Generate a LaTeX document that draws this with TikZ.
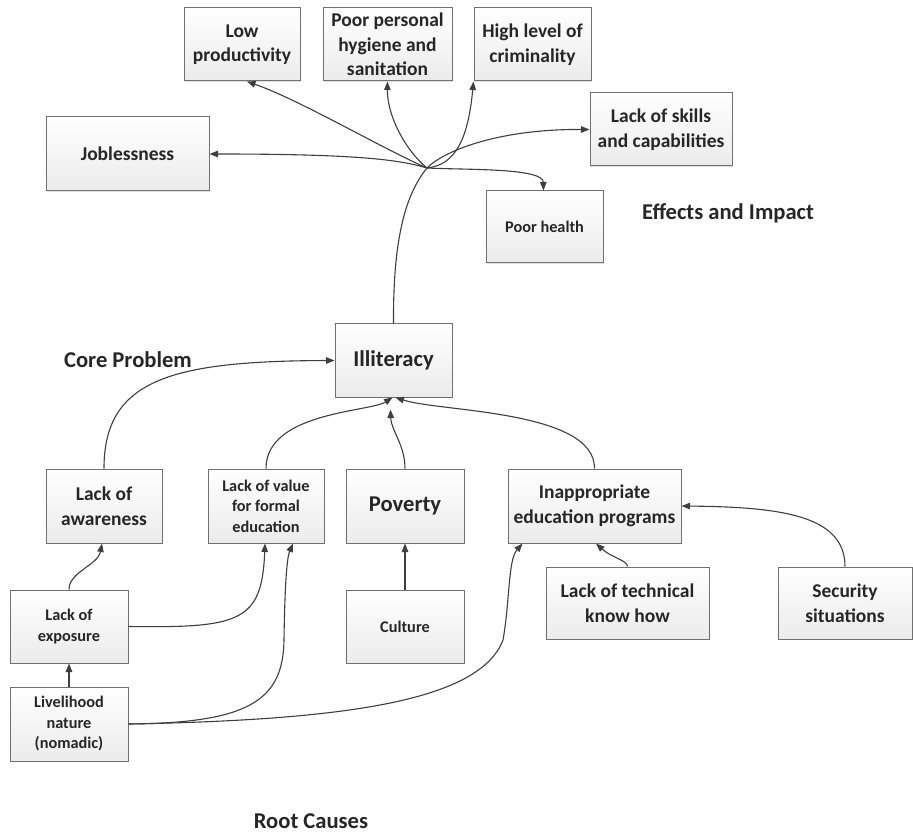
\documentclass[tikz,border=0pt]{standalone}
\usepackage{fontspec}
\setmainfont{Carlito}
\usetikzlibrary{arrows.meta,shadows}
\definecolor{boxline}{HTML}{707070}
\definecolor{boxbot}{HTML}{EBEBEB}
\definecolor{lnc}{HTML}{3E3E3E}
\newcommand\fSm{\fontsize{16.3}{20.5}\selectfont\bfseries}
\newcommand\fMd{\fontsize{19.5}{24.5}\selectfont\bfseries}
\newcommand\fLg{\fontsize{22.6}{27}\selectfont\bfseries}
\begin{document}
\begin{tikzpicture}[x=1pt,y=-1pt,
  box/.style={draw=boxline, line width=1pt, top color=white, bottom color=boxbot,
    drop shadow={shadow xshift=1.2pt,shadow yshift=-1.2pt,fill=black,opacity=0.12},
    inner sep=1pt, align=center, text=black!85},
  sm/.style={box, font=\fSm},
  md/.style={box, font=\fMd},
  lg/.style={box, font=\fLg},
  title/.style={font=\fLg, text=black!85},
  conn/.style={draw=lnc, line width=1.1pt, -{Triangle[length=8.5pt,width=6.5pt]}},
  plain/.style={draw=lnc, line width=1.1pt}]
\useasboundingbox (0,0) rectangle (913,834);
% effects
\node[md, minimum width=116pt, minimum height=73pt] (low) at (242,44.5) {Low\\productivity};
\node[md, minimum width=129pt, minimum height=73pt] (hyg) at (387.5,44.5) {Poor personal\\hygiene and\\sanitation};
\node[md, minimum width=117pt, minimum height=73pt] (crim) at (532.5,44.5) {High level of\\criminality};
\node[md, minimum width=142pt, minimum height=73pt] (skills) at (661,129.5) {Lack of skills\\and capabilities};
\node[md, minimum width=163pt, minimum height=74pt] (job) at (127.5,154) {Joblessness};
\node[sm, minimum width=117pt, minimum height=72pt] (health) at (544.5,227) {Poor health};
\node[title] (effects) at (728,213) {Effects and Impact};
% core
\node[lg, minimum width=117pt, minimum height=73pt] (illit) at (393.5,360.5) {Illiteracy};
\node[title] (core) at (128,360) {Core Problem};
% causes
\node[md, minimum width=116pt, minimum height=74pt] (aware) at (104,506) {Lack of\\awareness};
\node[sm, minimum width=116pt, minimum height=74pt] (value) at (266,506) {Lack of value\\for formal\\education};
\node[lg, minimum width=118pt, minimum height=74pt] (pov) at (405,506) {Poverty};
\node[md, minimum width=173pt, minimum height=74pt] (inapp) at (594.5,506) {Inappropriate\\education programs};
\node[md, minimum width=163pt, minimum height=72pt] (tech) at (627.5,603) {Lack of technical\\know how};
\node[md, minimum width=134pt, minimum height=72pt] (sec) at (845,603) {Security\\situations};
\node[sm, minimum width=118pt, minimum height=73pt] (cult) at (405,626.5) {Culture};
\node[sm, minimum width=118pt, minimum height=73pt] (expo) at (69,626.5) {Lack of\\exposure};
\node[sm, minimum width=118pt, minimum height=74pt] (live) at (69,724) {Livelihood\\nature\\(nomadic)};
\node[title] (root) at (311,821) {Root Causes};
% hub of effects
\coordinate (hub) at (427,168);
\draw[plain] (illit.north) .. controls (393,240) and (405,195) .. (hub);
\draw[conn] (hub) .. controls (385,150) and (300,100) .. ([xshift=5pt]low.south);
\draw[conn] (hub) .. controls (405,150) and (387,115) .. (hyg.south);
\draw[conn] (hub) .. controls (455,165) and (468,140) .. (crim.south west);
\draw[conn] (hub) .. controls (445,150) and (500,129) .. (skills.west);
\draw[conn] (hub) .. controls (400,160) and (360,154) .. (job.east);
\draw[conn] (hub) .. controls (470,170) and (543,168) .. ([xshift=-1pt]health.north);
% causes to illiteracy
\draw[conn] (aware.north) .. controls (104,380) and (170,361) .. (illit.west);
\draw[conn] (value.north) .. controls (266,412) and (370,412) .. ([xshift=-1pt]illit.south);
\draw[conn] (pov.north) .. controls (405,445) and (391,430) .. ([xshift=-3pt,yshift=-12pt]illit.south);
\draw[conn] (inapp.north) .. controls (595,410) and (440,412) .. ([xshift=2pt]illit.south);
\draw[conn] (cult.north) -- (pov.south);
\draw[conn] (tech.north) .. controls (627,560) and (612,558) .. ([xshift=1.5pt]inapp.south);
\draw[conn] (sec.north) .. controls (845,515) and (780,507) .. (inapp.east);
\draw[conn] (live.north) -- (expo.south);
\draw[conn] (expo.north) .. controls (69,572) and (98,565) .. ([xshift=-2pt]aware.south);
\draw[conn] (expo.east) .. controls (240,628) and (262,622) .. ([xshift=-1pt]value.south);
\draw[conn] (live.east) .. controls (250,723) and (283,700) .. (284,640) .. controls (285,570) and (288,555) .. ([xshift=27pt]value.south);
\draw[conn] (live.east) .. controls (350,720) and (480,700) .. (503,640) .. controls (510,600) and (508,560) .. ([xshift=15pt]inapp.south west);
\end{tikzpicture}
\end{document}
